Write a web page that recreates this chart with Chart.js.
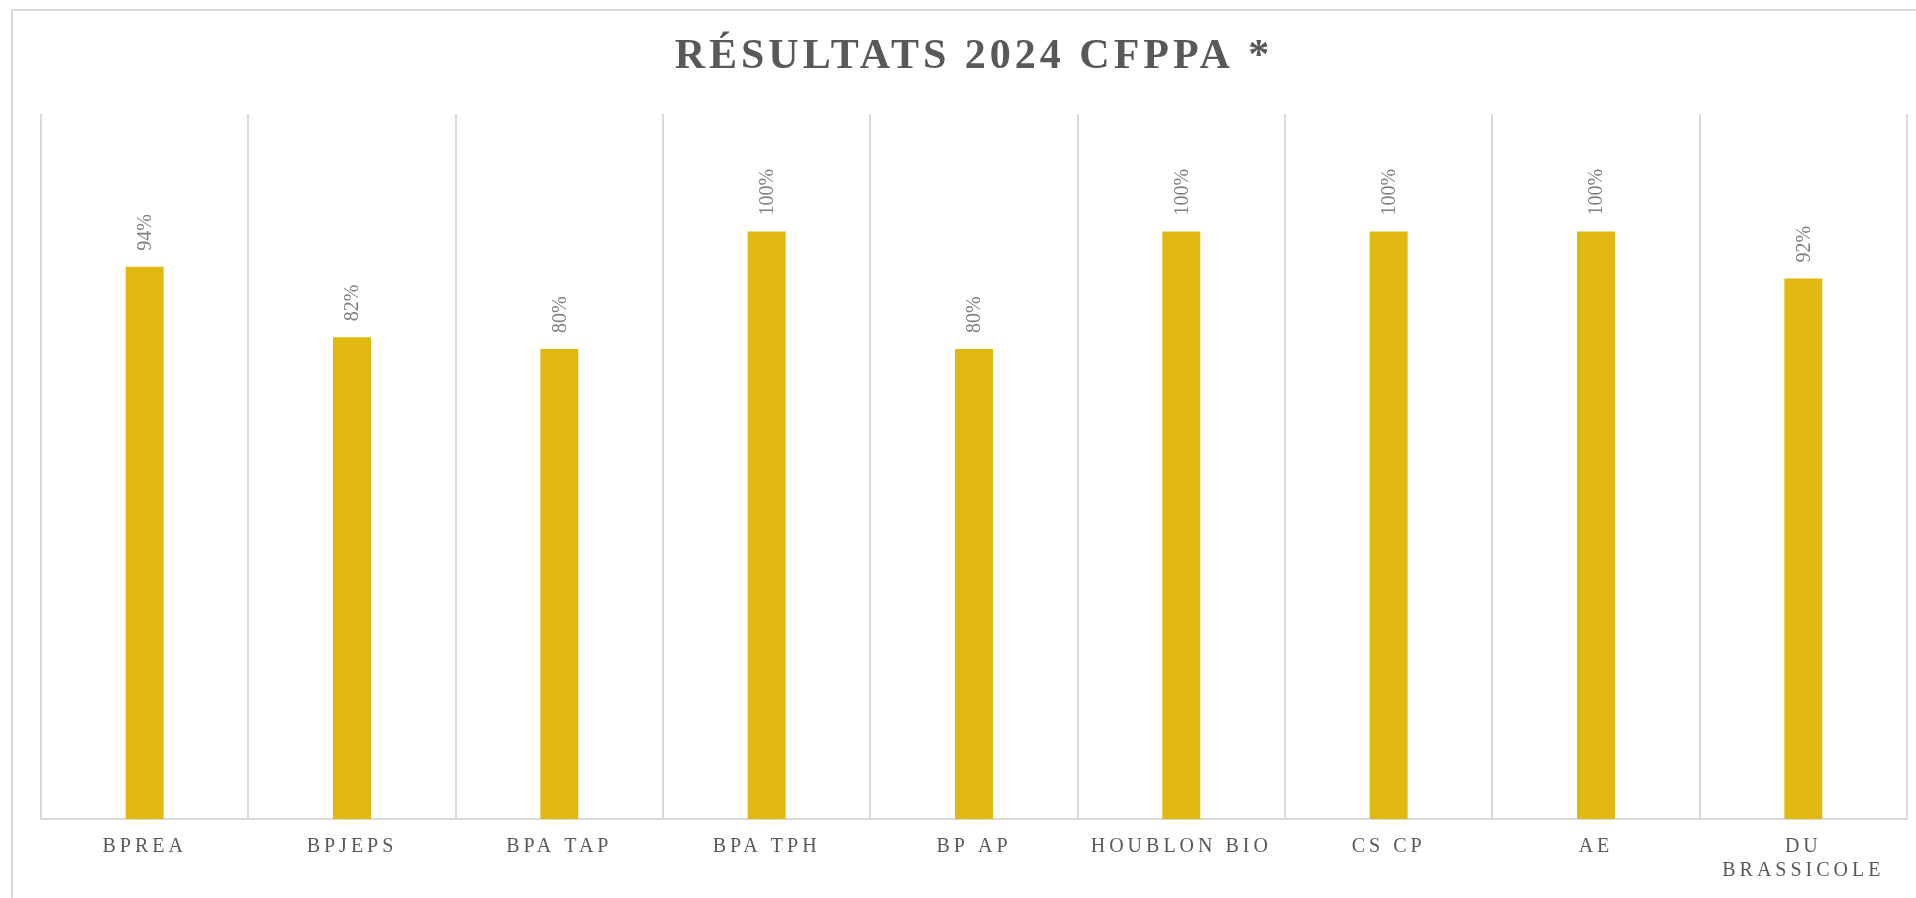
<!DOCTYPE html>
<html lang="fr">
<head>
<meta charset="utf-8">
<title>Résultats 2024 CFPPA</title>
<script src="https://cdn.jsdelivr.net/npm/chart.js@4.4.1/dist/chart.umd.min.js"></script>
<style>
  html, body { margin: 0; padding: 0; background: #fff; overflow: hidden; }
  #wrap { width: 1916px; height: 898px; }
</style>
</head>
<body>
<div id="wrap"><canvas id="chart" width="1916" height="898"></canvas></div>
<script>
// Données
const formations = ["BPREA", "BPJEPS", "BPA TAP", "BPA TPH", "BP AP", "HOUBLON BIO", "CS CP", "AE", ["DU", "BRASSICOLE"]];
const reussite = [94, 82, 80, 100, 80, 100, 100, 100, 92];
const titre = "RÉSULTATS 2024 CFPPA *";

const serif = "'Liberation Serif', 'DejaVu Serif', serif";

// Cadre, titre et étiquettes de valeurs
const decor = {
  id: "decor",
  beforeDraw(chart) {
    const c = chart.ctx;
    c.save();
    c.strokeStyle = "#d9d9d9";
    c.lineWidth = 2;
    c.strokeRect(12, 10, chart.width + 20, chart.height + 20);
    c.restore();
    c.letterSpacing = "4px"; // espacement des libellés de l'axe
  },
  afterDraw(chart) {
    const c = chart.ctx;
    const area = chart.chartArea;
    c.save();
    c.letterSpacing = "4px";
    c.fillStyle = "#595959";
    c.font = "bold 42px " + serif;
    c.textAlign = "center";
    c.textBaseline = "middle";
    c.fillText(titre, (area.left + area.right) / 2, 57);
    c.restore();

    c.save();
    c.letterSpacing = "0px";
    c.fillStyle = "#7f7f7f";
    c.font = "20px " + serif;
    c.textAlign = "left";
    c.textBaseline = "middle";
    chart.getDatasetMeta(0).data.forEach((bar, i) => {
      c.save();
      c.translate(bar.x, bar.y - 16);
      c.rotate(-Math.PI / 2);
      c.fillText(reussite[i] + "%", 0, 1);
      c.restore();
    });
    c.restore();
    c.letterSpacing = "0px";
  }
};

const ctx = document.getElementById("chart").getContext("2d");
const chart = new Chart(ctx, {
  type: "bar",
  data: {
    labels: formations,
    datasets: [
      {
        label: "Réussite",
        data: reussite,
        backgroundColor: "#e1b80f",
        borderWidth: 0,
        barPercentage: 0.183,
        categoryPercentage: 1,
      },
    ],
  },
  options: {
    responsive: false,
    animation: false,
    layout: { padding: { left: 41, right: 9, top: 114, bottom: 0 } },
    plugins: {
      legend: { display: false },
      title: { display: false },
      tooltip: { enabled: false },
    },
    scales: {
      x: {
        grid: { color: "#d9d9d9", lineWidth: 2, drawTicks: false, offset: true },
        border: { color: "#d9d9d9", width: 2 },
        ticks: {
          color: "#595959",
          font: { family: serif, size: 20 },
          padding: 16,
          maxRotation: 0,
          autoSkip: false,
        },
        afterFit(scale) { scale.height = 79; },
      },
      y: {
        display: false,
        min: 0,
        max: 120,
      },
    },
  },
  plugins: [decor],
});
</script>
</body>
</html>
